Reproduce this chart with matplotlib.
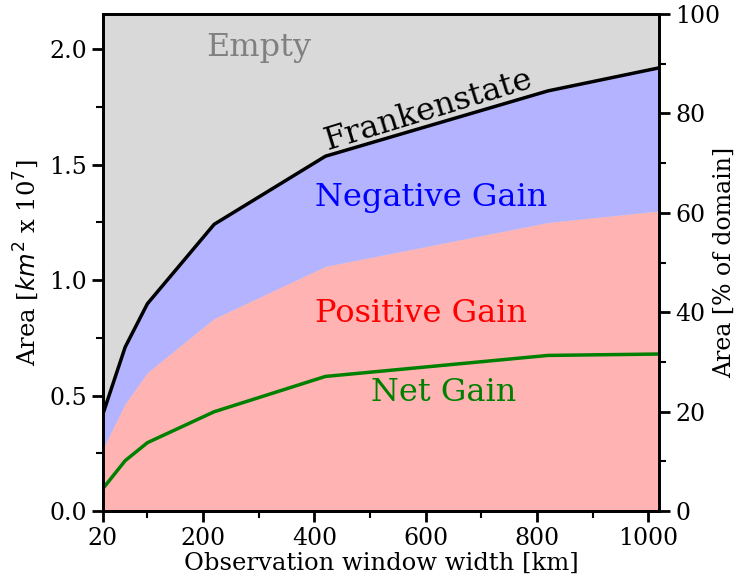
import matplotlib
matplotlib.use("Agg")
import matplotlib.pyplot as plt
from matplotlib.ticker import MultipleLocator, FixedLocator

plt.rcParams['font.family'] = 'DejaVu Serif'

# window widths [km] and areas [km^2 x 10^7]
window = [20, 60, 100, 220, 420, 820, 1020]
frankenstate = [0.42, 0.71, 0.898, 1.242, 1.537, 1.82, 1.92]
positive_gain = [0.27, 0.465, 0.60, 0.834, 1.06, 1.25, 1.30]
net_gain = [0.097, 0.218, 0.296, 0.43, 0.583, 0.674, 0.68]
domain_area = 2.153  # total domain [km^2 x 10^7]

fig = plt.figure(figsize=(7.35, 5.84), dpi=100)
ax = fig.add_axes([0.140, 0.125, 0.757, 0.851])
ax.set_facecolor('#d9d9d9')

ax.fill_between(window, 0, positive_gain, color='#ffb3b3', lw=0)
ax.fill_between(window, positive_gain, frankenstate, color='#b3b3ff', lw=0)
ax.plot(window, frankenstate, color='k', lw=2.5)
ax.plot(window, net_gain, color='green', lw=2.5)

ax.set_xlim(20, 1020)
ax.set_ylim(0, domain_area)
ax.xaxis.set_major_locator(FixedLocator([20, 200, 400, 600, 800, 1000]))
ax.xaxis.set_minor_locator(FixedLocator([100, 300, 500, 700, 900]))
ax.yaxis.set_major_locator(MultipleLocator(0.5))
ax.yaxis.set_minor_locator(MultipleLocator(0.25))
ax.yaxis.set_major_formatter('{x:.1f}')

ax.text(300, 2.006, 'Empty', color='gray', fontsize=23, ha='center', va='center')
ax.text(605, 1.735, 'Frankenstate', color='k', fontsize=23, ha='center', va='center',
        rotation=17)
ax.text(610, 1.36, 'Negative Gain', color='blue', fontsize=23, ha='center', va='center')
ax.text(592, 0.856, 'Positive Gain', color='red', fontsize=23, ha='center', va='center')
ax.text(632, 0.514, 'Net Gain', color='green', fontsize=23, ha='center', va='center')

ax.set_xlabel('Observation window width [km]', fontsize=17.5, labelpad=1)
ax.set_ylabel('Area [$km^2$ x 10$^7$]', fontsize=17.5, labelpad=6)

ax2 = ax.twinx()
ax2.set_ylim(0, 100)
ax2.yaxis.set_major_locator(MultipleLocator(20))
ax2.yaxis.set_minor_locator(MultipleLocator(10))
ax2.set_ylabel('Area [% of domain]', fontsize=17, labelpad=-5)

for a in (ax, ax2):
    for s in a.spines.values():
        s.set_linewidth(2)
    a.tick_params(which='major', length=8, width=2, labelsize=17)
    a.tick_params(which='minor', length=5, width=1.5)

fig.savefig('out.png', dpi=100)
